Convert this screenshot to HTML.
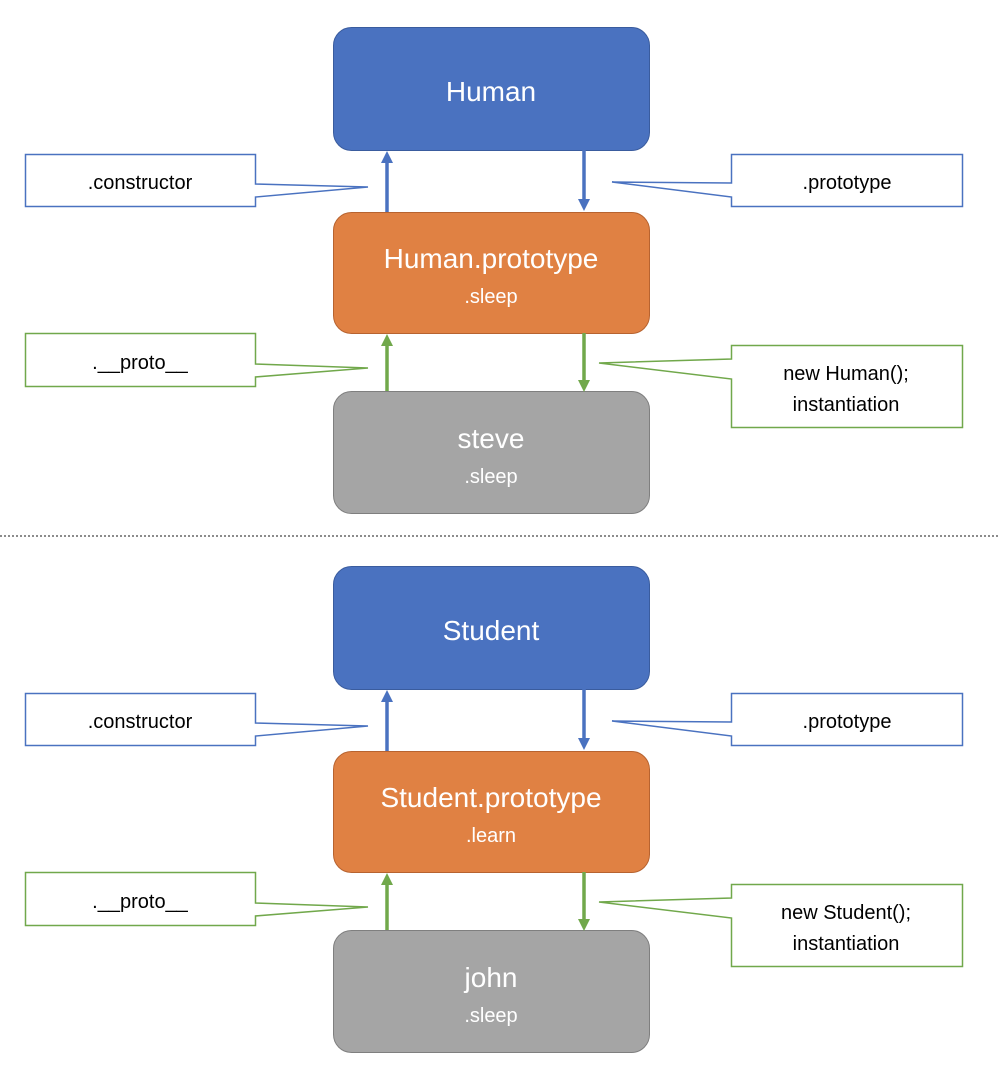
<!DOCTYPE html>
<html><head><meta charset="utf-8"><style>
html,body{margin:0;padding:0;background:#fff;width:1000px;height:1080px;overflow:hidden}
text{font-family:"Liberation Sans",sans-serif}
</style></head><body>
<svg width="1000" height="1080" viewBox="0 0 1000 1080" xmlns="http://www.w3.org/2000/svg">
<defs>
<marker id="ab" markerWidth="10" markerHeight="10" refX="5" refY="5" orient="auto" markerUnits="userSpaceOnUse"><path d="M0,0 L10,5 L0,10 z" fill="#4a72c0"/></marker>
<marker id="ag" markerWidth="10" markerHeight="10" refX="5" refY="5" orient="auto" markerUnits="userSpaceOnUse"><path d="M0,0 L10,5 L0,10 z" fill="#71a84b"/></marker>
</defs>
<g id="sec1">
<rect x="333.5" y="27.5" width="316" height="123" rx="18" fill="#4a72c0" stroke="#3a5c9e"/>
<text x="491" y="101" font-size="28" fill="#fff" text-anchor="middle">Human</text>
<rect x="333.5" y="212.5" width="316" height="121" rx="18" fill="#e08143" stroke="#b76330"/>
<text x="491" y="268" font-size="28" fill="#fff" text-anchor="middle">Human.prototype</text>
<text x="491" y="303" font-size="20" fill="#fff" text-anchor="middle">.sleep</text>
<rect x="333.5" y="391.5" width="316" height="122" rx="18" fill="#a5a5a5" stroke="#7f7f7f"/>
<text x="491" y="448" font-size="28" fill="#fff" text-anchor="middle">steve</text>
<text x="491" y="483" font-size="20" fill="#fff" text-anchor="middle">.sleep</text>
<line x1="387" y1="212" x2="387" y2="160" stroke="#4a72c0" stroke-width="3.5"/>
<path d="M381,163 L387,151 L393,163 z" fill="#4a72c0"/>
<line x1="584" y1="150" x2="584" y2="202" stroke="#4a72c0" stroke-width="3.5"/>
<path d="M578,199 L584,211 L590,199 z" fill="#4a72c0"/>
<line x1="387" y1="391" x2="387" y2="343" stroke="#71a84b" stroke-width="3.5"/>
<path d="M381,346 L387,334 L393,346 z" fill="#71a84b"/>
<line x1="584" y1="333" x2="584" y2="382" stroke="#71a84b" stroke-width="3.5"/>
<path d="M578,380 L584,392 L590,380 z" fill="#71a84b"/>
<path d="M25.5,154.5 H255.5 V184 L368,187 L255.5,197 V206.5 H25.5 Z" fill="#fff" stroke="#4a72c0" stroke-width="1.5"/>
<text x="140" y="189" font-size="20" fill="#000" text-anchor="middle">.constructor</text>
<path d="M731.5,154.5 H962.5 V206.5 H731.5 V197 L612,182 L731.5,183 Z" fill="#fff" stroke="#4a72c0" stroke-width="1.5"/>
<text x="847" y="189" font-size="20" fill="#000" text-anchor="middle">.prototype</text>
<path d="M25.5,333.5 H255.5 V364 L368,368 L255.5,377 V386.5 H25.5 Z" fill="#fff" stroke="#71a84b" stroke-width="1.5"/>
<text x="140" y="369" font-size="20" fill="#000" text-anchor="middle">.__proto__</text>
<path d="M731.5,345.5 H962.5 V427.5 H731.5 V379 L599,363 L731.5,359 Z" fill="#fff" stroke="#71a84b" stroke-width="1.5"/>
<text x="846" y="380" font-size="20" fill="#000" text-anchor="middle">new Human();</text>
<text x="846" y="411" font-size="20" fill="#000" text-anchor="middle">instantiation</text>
</g>
<line x1="0" y1="536" x2="1000" y2="536" stroke="#8c8c8c" stroke-width="2" stroke-dasharray="2,2"/>
<g transform="translate(0,539)">
<rect x="333.5" y="27.5" width="316" height="123" rx="18" fill="#4a72c0" stroke="#3a5c9e"/>
<text x="491" y="101" font-size="28" fill="#fff" text-anchor="middle">Student</text>
<rect x="333.5" y="212.5" width="316" height="121" rx="18" fill="#e08143" stroke="#b76330"/>
<text x="491" y="268" font-size="28" fill="#fff" text-anchor="middle">Student.prototype</text>
<text x="491" y="303" font-size="20" fill="#fff" text-anchor="middle">.learn</text>
<rect x="333.5" y="391.5" width="316" height="122" rx="18" fill="#a5a5a5" stroke="#7f7f7f"/>
<text x="491" y="448" font-size="28" fill="#fff" text-anchor="middle">john</text>
<text x="491" y="483" font-size="20" fill="#fff" text-anchor="middle">.sleep</text>
<line x1="387" y1="212" x2="387" y2="160" stroke="#4a72c0" stroke-width="3.5"/>
<path d="M381,163 L387,151 L393,163 z" fill="#4a72c0"/>
<line x1="584" y1="150" x2="584" y2="202" stroke="#4a72c0" stroke-width="3.5"/>
<path d="M578,199 L584,211 L590,199 z" fill="#4a72c0"/>
<line x1="387" y1="391" x2="387" y2="343" stroke="#71a84b" stroke-width="3.5"/>
<path d="M381,346 L387,334 L393,346 z" fill="#71a84b"/>
<line x1="584" y1="333" x2="584" y2="382" stroke="#71a84b" stroke-width="3.5"/>
<path d="M578,380 L584,392 L590,380 z" fill="#71a84b"/>
<path d="M25.5,154.5 H255.5 V184 L368,187 L255.5,197 V206.5 H25.5 Z" fill="#fff" stroke="#4a72c0" stroke-width="1.5"/>
<text x="140" y="189" font-size="20" fill="#000" text-anchor="middle">.constructor</text>
<path d="M731.5,154.5 H962.5 V206.5 H731.5 V197 L612,182 L731.5,183 Z" fill="#fff" stroke="#4a72c0" stroke-width="1.5"/>
<text x="847" y="189" font-size="20" fill="#000" text-anchor="middle">.prototype</text>
<path d="M25.5,333.5 H255.5 V364 L368,368 L255.5,377 V386.5 H25.5 Z" fill="#fff" stroke="#71a84b" stroke-width="1.5"/>
<text x="140" y="369" font-size="20" fill="#000" text-anchor="middle">.__proto__</text>
<path d="M731.5,345.5 H962.5 V427.5 H731.5 V379 L599,363 L731.5,359 Z" fill="#fff" stroke="#71a84b" stroke-width="1.5"/>
<text x="846" y="380" font-size="20" fill="#000" text-anchor="middle">new Student();</text>
<text x="846" y="411" font-size="20" fill="#000" text-anchor="middle">instantiation</text>
</g>
</svg>
</body></html>
